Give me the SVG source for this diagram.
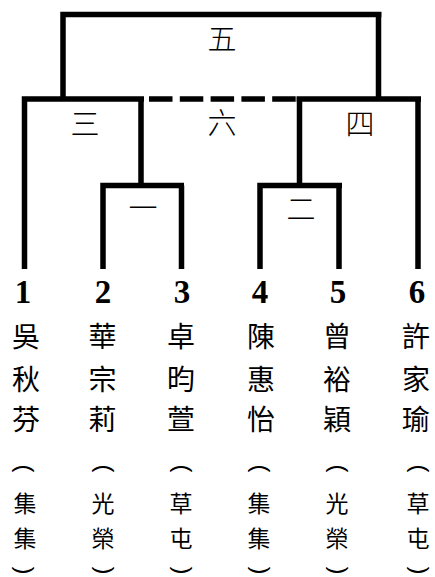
<svg xmlns="http://www.w3.org/2000/svg" width="435" height="577" viewBox="0 0 435 577">
<style>
.ln{fill:none;stroke:#000;stroke-width:5.5;stroke-linecap:butt;stroke-linejoin:miter}
.dash{stroke-dasharray:23.5 7.3}
.lab{font-family:"Noto Sans CJK TC","Noto Sans CJK SC",sans-serif;font-size:29px;font-weight:300;fill:#000;text-anchor:middle;dominant-baseline:central}
.num{font-family:"Liberation Serif",serif;font-size:33px;font-weight:bold;fill:#000;text-anchor:middle;dominant-baseline:central}
.nm{font-family:"Noto Sans CJK TC","Noto Sans CJK SC",sans-serif;font-size:28px;fill:#000;text-anchor:middle;dominant-baseline:central}
.tm{font-family:"Noto Sans CJK TC","Noto Sans CJK SC",sans-serif;font-size:23px;fill:#000;text-anchor:middle;dominant-baseline:central}
.pr{font-family:"Liberation Sans",sans-serif;font-size:24px;fill:#000;text-anchor:middle;dominant-baseline:central}
</style>
<rect width="435" height="577" fill="#fff"/>
<g id="connectors">
<path class="ln" d="M63,99 V14.5 H381.5 M378.5,14.5 V99"/>
<path class="ln" d="M24.5,269 V99 H144 M141,99 V183"/>
<path class="ln" d="M296.5,99 H421 M418,99 V269 M299.5,99 V183"/>
<path class="ln" d="M103,269 V185.5 H184 M181.5,185.5 V269"/>
<path class="ln" d="M260,269 V185.5 H342 M339,185.5 V269"/>
<path class="ln dash" d="M149,99 H296"/>
</g>
<g id="match-5"><text class="lab" x="222" y="37">五</text></g>
<g id="match-3"><text class="lab" x="85" y="122">三</text></g>
<g id="match-6"><text class="lab" x="222" y="121">六</text></g>
<g id="match-4"><text class="lab" x="360" y="122">四</text></g>
<g id="match-1"><text class="lab" x="143" y="206">一</text></g>
<g id="match-2"><text class="lab" x="301" y="207">二</text></g>
<g id="player-1">
<text class="num" x="23" y="292">1</text>
<text class="nm" x="26" y="335">吳</text><text class="nm" x="26" y="378">秋</text><text class="nm" x="26" y="418">芬</text>
<text class="pr" x="25.5" y="468.5" transform="rotate(90 25.5 468.5)">(</text><text class="tm" x="25" y="502">集</text><text class="tm" x="25" y="537">集</text><text class="pr" x="25.5" y="570.5" transform="rotate(90 25.5 570.5)">)</text>
</g>
<g id="player-2">
<text class="num" x="103" y="292">2</text>
<text class="nm" x="102.5" y="335">華</text><text class="nm" x="102.5" y="378">宗</text><text class="nm" x="102.5" y="418">莉</text>
<text class="pr" x="105" y="468.5" transform="rotate(90 105 468.5)">(</text><text class="tm" x="103" y="502">光</text><text class="tm" x="103" y="537">榮</text><text class="pr" x="105" y="570.5" transform="rotate(90 105 570.5)">)</text>
</g>
<g id="player-3">
<text class="num" x="182" y="292">3</text>
<text class="nm" x="181" y="335">卓</text><text class="nm" x="181" y="378">昀</text><text class="nm" x="181" y="418">萱</text>
<text class="pr" x="183" y="468.5" transform="rotate(90 183 468.5)">(</text><text class="tm" x="181" y="502">草</text><text class="tm" x="181" y="537">屯</text><text class="pr" x="183" y="570.5" transform="rotate(90 183 570.5)">)</text>
</g>
<g id="player-4">
<text class="num" x="260" y="292">4</text>
<text class="nm" x="261" y="335">陳</text><text class="nm" x="261" y="378">惠</text><text class="nm" x="261" y="418">怡</text>
<text class="pr" x="261" y="468.5" transform="rotate(90 261 468.5)">(</text><text class="tm" x="259" y="502">集</text><text class="tm" x="259" y="537">集</text><text class="pr" x="261" y="570.5" transform="rotate(90 261 570.5)">)</text>
</g>
<g id="player-5">
<text class="num" x="338" y="292">5</text>
<text class="nm" x="337" y="335">曾</text><text class="nm" x="337" y="378">裕</text><text class="nm" x="337" y="418">穎</text>
<text class="pr" x="339" y="468.5" transform="rotate(90 339 468.5)">(</text><text class="tm" x="337" y="502">光</text><text class="tm" x="337" y="537">榮</text><text class="pr" x="339" y="570.5" transform="rotate(90 339 570.5)">)</text>
</g>
<g id="player-6">
<text class="num" x="417" y="292">6</text>
<text class="nm" x="416" y="335">許</text><text class="nm" x="416" y="378">家</text><text class="nm" x="416" y="418">瑜</text>
<text class="pr" x="420" y="468.5" transform="rotate(90 420 468.5)">(</text><text class="tm" x="418" y="502">草</text><text class="tm" x="418" y="537">屯</text><text class="pr" x="420" y="570.5" transform="rotate(90 420 570.5)">)</text>
</g>
</svg>
